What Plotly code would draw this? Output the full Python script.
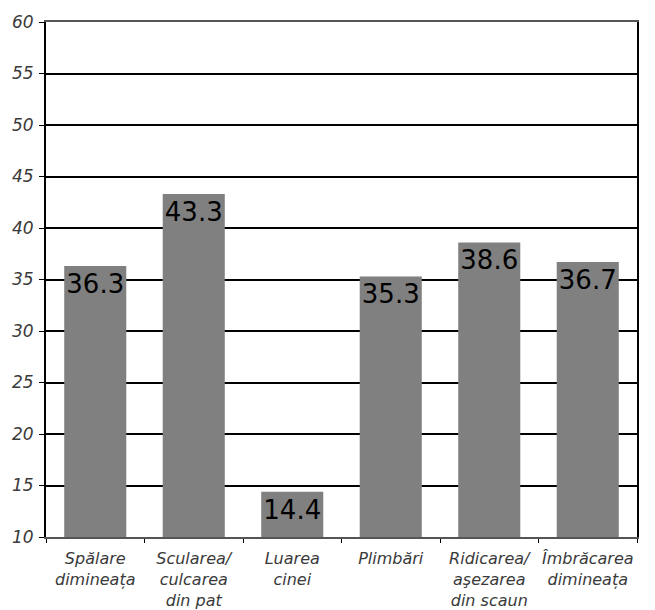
import plotly.graph_objects as go

# Activities and their scores
categories = [
    "Spălare<br>dimineața",
    "Scularea/<br>culcarea<br>din pat",
    "Luarea<br>cinei",
    "Plimbări",
    "Ridicarea/<br>aşezarea<br>din scaun",
    "Îmbrăcarea<br>dimineața",
]
values = [36.3, 43.3, 14.4, 35.3, 38.6, 36.7]
y_ticks = [10, 15, 20, 25, 30, 35, 40, 45, 50, 55, 60]

AXIS_FLOOR = 10

fig = go.Figure(
    go.Bar(
        x=categories,
        y=[v - AXIS_FLOOR for v in values],
        base=AXIS_FLOOR,
        marker=dict(color="#808080", line=dict(width=0)),
        width=0.63,
        text=[f"{v:.1f}" for v in values],
        textposition="inside",
        insidetextanchor="end",
        textangle=0,
        constraintext="none",
        textfont=dict(family="DejaVu Sans", size=26, color="#000000"),
        cliponaxis=False,
    )
)

fig.update_layout(
    width=655,
    height=610,
    margin=dict(l=46, r=18, t=22, b=73),
    paper_bgcolor="white",
    plot_bgcolor="white",
    showlegend=False,
    font=dict(family="DejaVu Sans", color="#333333"),
)

fig.update_yaxes(
    range=[10, 60],
    tickvals=y_ticks,
    automargin=False,
    showgrid=True,
    gridcolor="#000000",
    gridwidth=2,
    showline=True,
    linecolor="#000000",
    linewidth=2,
    mirror=True,
    ticks="outside",
    ticklen=5,
    tickcolor="#000000",
    ticklabelstandoff=2,
    tickfont=dict(family="DejaVu Sans", size=17, color="#3a3a3a", style="italic"),
    zeroline=False,
)

fig.update_xaxes(
    automargin=False,
    tickangle=0,
    showline=True,
    linecolor="#555555",
    linewidth=2,
    mirror=True,
    ticks="outside",
    tickson="boundaries",
    ticklen=4,
    tickcolor="#000000",
    ticklabelstandoff=6,
    tickfont=dict(family="DejaVu Sans", size=16, color="#3a3a3a", style="italic"),
)

fig.write_html("out.html")
